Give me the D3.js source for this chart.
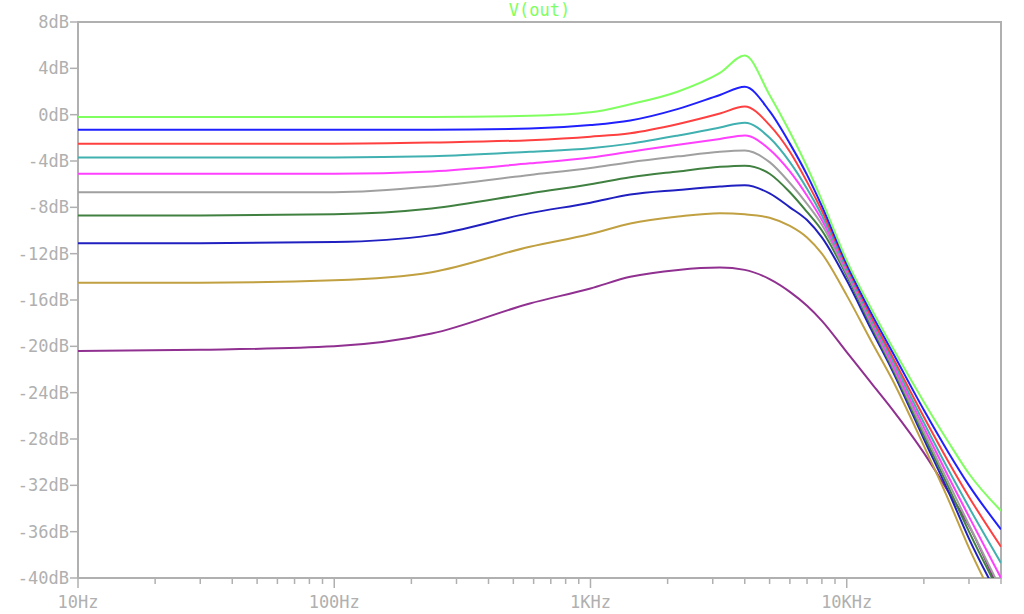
<!DOCTYPE html>
<html>
<head>
<meta charset="utf-8">
<script src="https://cdn.jsdelivr.net/npm/d3@7"></script>
<style>
body { margin: 0; background: #fff; }
text { font-family: "DejaVu Sans Mono", monospace; }
</style>
</head>
<body>
<script>
// frequencies (Hz)
var freqs = [10,30,100,240,580,1000,1430,2200,3200,4000,5000,6000,7000,8000,10000,12500,15000,20000,25000,30000,40000];

// series values (dB)
var sGreen   = [-0.2,-0.2,-0.2,-0.2,-0.1,0.2,0.9,2.0,3.6,5.1,1.7,-1.5,-4.5,-7.4,-12.6,-16.8,-20,-24.8,-28.3,-31,-34.2];
var sBlue    = [-1.3,-1.3,-1.3,-1.3,-1.2,-0.9,-0.5,0.5,1.7,2.4,0.3,-2.5,-5.2,-7.9,-12.9,-17.2,-20.4,-25.5,-29.2,-32,-35.8];
var sRed     = [-2.5,-2.5,-2.5,-2.4,-2.2,-1.9,-1.6,-0.8,0.1,0.7,-0.9,-3.2,-5.8,-8.3,-13.1,-17.5,-20.8,-26.1,-30,-33,-37.3];
var sTeal    = [-3.7,-3.7,-3.7,-3.6,-3.2,-2.9,-2.5,-1.8,-1.1,-0.7,-2,-4.1,-6.4,-8.7,-13.3,-17.7,-21.1,-26.6,-30.7,-33.9,-38.7];
var sMagenta = [-5.1,-5.1,-5.1,-4.9,-4.2,-3.7,-3.2,-2.6,-2.1,-1.8,-3,-4.9,-7,-9.1,-13.5,-17.9,-21.4,-27,-31.3,-34.7,-40];
var sGray    = [-6.7,-6.7,-6.7,-6.2,-5.2,-4.6,-4.1,-3.6,-3.2,-3.1,-4.1,-5.9,-7.7,-9.5,-13.7,-18.1,-21.6,-27.4,-31.8,-35.4,-41];
var sDkGreen = [-8.7,-8.7,-8.6,-8.1,-6.8,-6.0,-5.4,-4.9,-4.5,-4.4,-5.1,-6.7,-8.4,-10,-13.9,-18.3,-21.8,-27.7,-32.2,-36,-41.5];
var sNavy    = [-11.1,-11.1,-11.0,-10.4,-8.5,-7.6,-6.9,-6.5,-6.2,-6.1,-6.8,-8,-9.1,-10.6,-14.3,-18.6,-22,-28,-32.6,-36.6,-42];
var sTan     = [-14.5,-14.5,-14.3,-13.6,-11.4,-10.3,-9.4,-8.8,-8.5,-8.6,-8.9,-9.6,-10.6,-12,-15.6,-19.6,-22.8,-28.6,-33.3,-37.4,-43];
var sPurple  = [-20.4,-20.3,-20.0,-18.9,-16.3,-15.0,-14.0,-13.4,-13.2,-13.4,-14.2,-15.3,-16.5,-17.8,-20.5,-23.2,-25.4,-29.2,-32.6,-35.5,-41.5];

var series = [sGreen, sBlue, sRed, sTeal, sMagenta, sGray, sDkGreen, sNavy, sTan, sPurple];
var colors = ["#80ff60","#2020ff","#ff4040","#40b0b0","#ff40ff","#a0a0a0","#408040","#2020c0","#c0a040","#903090"];

var yTicks = [8,4,0,-4,-8,-12,-16,-20,-24,-28,-32,-36,-40];
var xMajor = [10,100,1000,10000];
var xLabels = ["10Hz","100Hz","1KHz","10KHz"];

var svgWidth = 1024, svgHeight = 614;
var margin = {top: 22, right: 23, bottom: 36, left: 78};
var w = svgWidth - margin.left - margin.right;
var h = svgHeight - margin.top - margin.bottom;

var svg = d3.select("body").append("svg")
    .attr("width", svgWidth).attr("height", svgHeight);

var x = d3.scaleLog().domain([10, 40000]).range([0, w]);
var y = d3.scaleLinear().domain([-40, 8]).range([h, 0]);

var g = svg.append("g").attr("transform", `translate(${margin.left},${margin.top})`);

var axisCol = "#b0b0b0";

// frame
g.append("rect").attr("width", w).attr("height", h)
    .attr("fill", "none").attr("stroke", axisCol).attr("stroke-width", 2);

// y ticks
yTicks.forEach(function(t) {
    g.append("line").attr("x1", -8).attr("x2", 0).attr("y1", y(t)).attr("y2", y(t))
        .attr("stroke", axisCol).attr("stroke-width", 1.5);
    g.append("text").attr("x", -9).attr("y", y(t)).attr("dy", "0.35em")
        .attr("text-anchor", "end").attr("font-size", 17).attr("fill", axisCol)
        .text(t + "dB");
});

// x ticks
var minor = [];
[10,100,1000,10000].forEach(function(d) {
    for (var k = 2; k <= 9; k++) if (d * k <= 40000) minor.push(d * k);
});
minor.forEach(function(f) {
    g.append("line").attr("x1", x(f)).attr("x2", x(f)).attr("y1", h).attr("y2", h + 6)
        .attr("stroke", axisCol).attr("stroke-width", 1.5);
});
xMajor.forEach(function(f, i) {
    g.append("line").attr("x1", x(f)).attr("x2", x(f)).attr("y1", h).attr("y2", h + 10)
        .attr("stroke", axisCol).attr("stroke-width", 1.5);
    g.append("text").attr("x", x(f)).attr("y", h + 30)
        .attr("text-anchor", "middle").attr("font-size", 17).attr("fill", axisCol)
        .text(xLabels[i]);
});

// title
svg.append("text").attr("x", margin.left + w / 2).attr("y", 16)
    .attr("text-anchor", "middle").attr("font-size", 17).attr("fill", "#80ff60")
    .text("V(out)");

svg.append("clipPath").attr("id", "clip").append("rect")
    .attr("width", w).attr("height", h);

var line = d3.line().x(function(d, i) { return x(freqs[i]); }).y(function(d) { return y(d); })
    .curve(d3.curveMonotoneX);

var plot = g.append("g").attr("clip-path", "url(#clip)");
series.slice().reverse().forEach(function(s, i) {
    plot.append("path").datum(s).attr("d", line)
        .attr("fill", "none").attr("stroke", colors[series.length - 1 - i]).attr("stroke-width", 2);
});
</script>
</body>
</html>
